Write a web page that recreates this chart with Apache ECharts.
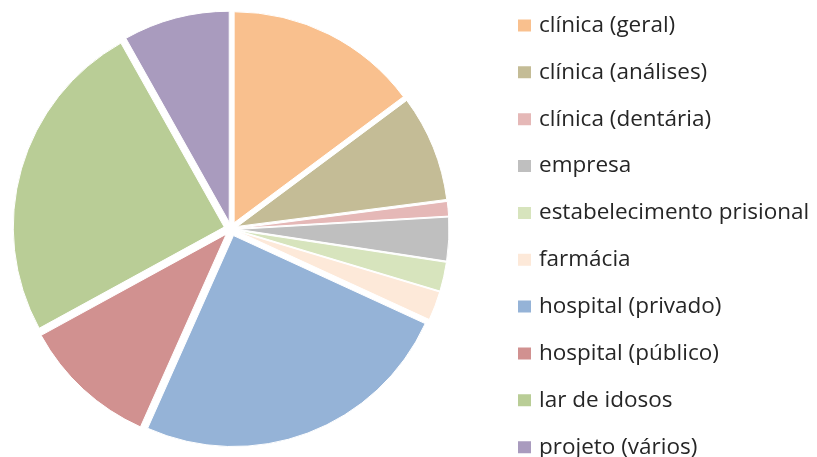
<!DOCTYPE html>
<html>
<head>
<meta charset="utf-8">
<script src="https://cdn.jsdelivr.net/npm/echarts@6/dist/echarts.min.js"></script>
<style>html,body{margin:0;padding:0;background:#fff}#c{width:817px;height:457px}</style>
</head>
<body>
<div id="c"></div>
<script>
var categories = ['clínica (geral)','clínica (análises)','clínica (dentária)','empresa','estabelecimento prisional','farmácia','hospital (privado)','hospital (público)','lar de idosos','projeto (vários)'];
var values = [40, 22, 3, 9, 6, 6, 67, 28, 67, 22];
var colors = ['#F9C08E','#C4BC96','#E5B8B7','#BFBFBF','#D7E4BD','#FDE9D9','#95B3D7','#D19190','#B9CD96','#A99BBE'];

var chart = echarts.init(document.getElementById('c'), null, {renderer:'canvas'});
var data = categories.map(function(n,i){
  return {name:n, value:values[i], selected:true, itemStyle:{color:colors[i]}};
});
chart.setOption({
  animation:false,
  legend:{
    orient:'vertical', left:516, top:14, height:450, padding:0,
    itemWidth:15, itemHeight:14, itemGap:23.85,
    icon:'rect', selectedMode:false,
    textStyle:{fontFamily:'Open Sans', fontSize:22.5, color:'#262626', lineHeight:20, padding:[0,0,2,2]},
    data:categories
  },
  series:[{
    type:'pie',
    center:[231,229], radius:[0,211],
    startAngle:90, clockwise:true,
    selectedMode:'multiple', selectedOffset:7,
    label:{show:false}, labelLine:{show:false},
    itemStyle:{borderColor:'#fff', borderWidth:1},
    emphasis:{disabled:true},
    data:data
  }]
});
</script>
</body>
</html>
